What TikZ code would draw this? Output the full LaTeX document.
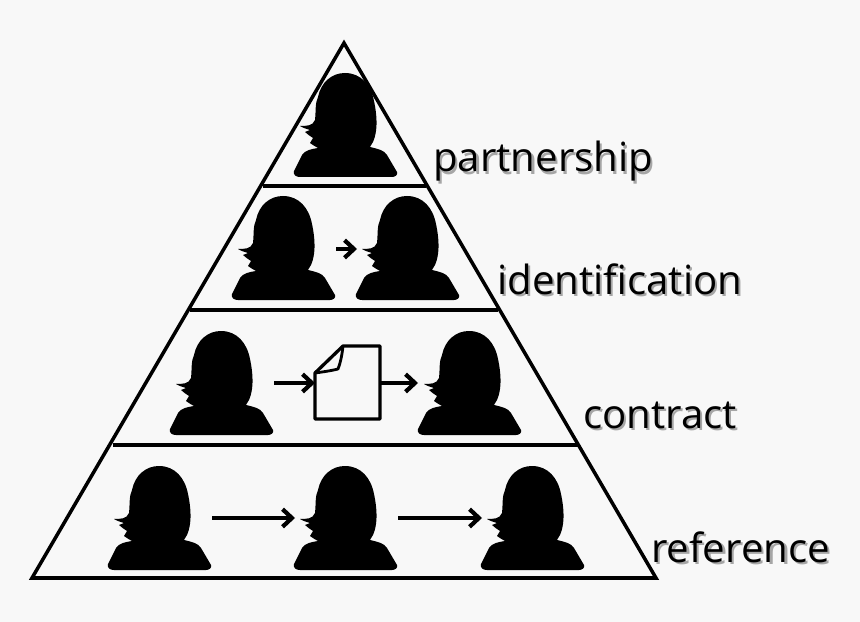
\documentclass[tikz,border=0pt]{standalone}
\usepackage{fontspec}
\setmainfont{Open Sans}
\usetikzlibrary{arrows.meta}
\definecolor{paper}{HTML}{F8F8F8}
\tikzset{
    edge/.style={line width=3pt,line join=miter},
    link/.style={line width=3.4pt,-{Straight Barb[length=8pt,width=15pt,line width=3.6pt]}},
    levellabel/.style={anchor=base west,inner sep=0pt,font=\fontsize{34.3}{34.3}\selectfont},
    person/.pic={
        \fill[black] (-1,-104)
            .. controls (15,-104) and (25,-92) .. (28,-76)
            .. controls (31,-62) and (33,-42) .. (24,-30)
            .. controls (32,-28) and (38,-27) .. (41,-22)
            -- (51,-5) .. controls (52,-2) and (49,0) .. (46,0)
            -- (-46,0) .. controls (-50,0) and (-53,-2) .. (-52,-6)
            -- (-44,-22) .. controls (-41,-27) and (-34,-28) .. (-28,-29)
            .. controls (-31,-31) and (-34,-32) .. (-36,-34)
            .. controls (-35,-36) and (-34,-37) .. (-33,-39)
            .. controls (-36,-41) and (-39,-43) .. (-41,-45)
            .. controls (-39,-46) and (-38,-46) .. (-36,-47)
            .. controls (-39,-48) and (-43,-49) .. (-46,-51)
            .. controls (-40,-51) and (-33,-51) .. (-31,-57)
            .. controls (-30,-66) and (-31,-74) .. (-28,-80)
            .. controls (-25,-95) and (-14,-104) .. (-1,-104) -- cycle;
    }
}
\newcommand{\levelname}[3]{%
    \node[levellabel,black!35,xshift=2pt,yshift=-2pt] at (#1) {#3};
    \node[levellabel] (#2) at (#1) {#3};
}
\begin{document}
\begin{tikzpicture}[x=0.03cm,y=-0.03cm]
    \fill[paper] (0,0) rectangle (860,622);
    \useasboundingbox (0,0) rectangle (860,622);
    \coordinate (Apex) at (344,43);
    \coordinate (BaseL) at (32,578);
    \coordinate (BaseR) at (656,578);
    % Pyramid and its levels
    \draw[edge] (Apex) -- (BaseL) -- (BaseR) -- cycle;
    \draw[edge] (263,186) -- (426,186);
    \draw[edge] (190,310) -- (498,310);
    \draw[edge] (113,445) -- (578,445);
    % People, bottom centre of each shoulder line
    \pic at (346,177) {person};
    \pic at (284,300) {person};
    \pic at (408,300) {person};
    \pic at (222,435) {person};
    \pic at (470,435) {person};
    \pic at (160,570) {person};
    \pic at (346,570) {person};
    \pic at (533,570) {person};
    % Document
    \coordinate (DocA) at (343,346);
    \coordinate (DocB) at (380,346);
    \coordinate (DocC) at (380,419);
    \coordinate (DocD) at (315,419);
    \coordinate (DocE) at (315,373);
    \draw[line width=2.8pt,fill=paper,line join=round] (DocA) -- (DocB) -- (DocC) -- (DocD) -- (DocE) -- cycle;
    \draw[line width=2.4pt,line join=round] (DocA) .. controls (342,356) and (340,364) .. (338,369) .. controls (330,371) and (322,372) .. (DocE);
    % Arrows
    \draw[link] (336,249) -- (357,249);
    \draw[link] (274,383) -- (DocE |- 0,383);
    \draw[link] (DocB |- 0,383) -- (418,383);
    \draw[link] (212,518) -- (295,518);
    \draw[link] (398,518) -- (482,518);
    % Names of the levels
    \levelname{433,172}{partnership}{partnership}
    \levelname{497,294}{identification}{identification}
    \levelname{583,428}{contract}{contract}
    \levelname{651,562}{reference}{reference}
\end{tikzpicture}
\end{document}
